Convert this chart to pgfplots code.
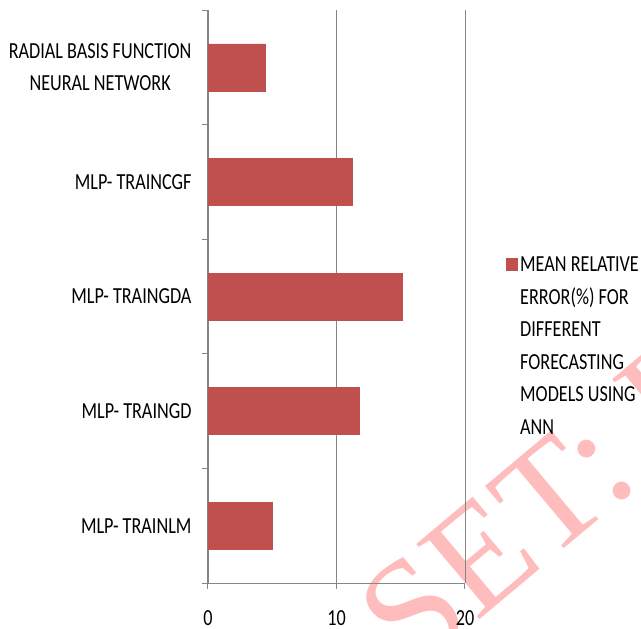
\documentclass[border=0pt]{standalone}
\usepackage{fontspec}
\setmainfont{Carlito}[FakeStretch=0.79]
\newfontfamily\wmfont{Liberation Serif}
\usepackage{pgfplots}
\pgfplotsset{compat=1.18}

\definecolor{barred}{RGB}{192,80,77}
\definecolor{axisgray}{RGB}{134,134,134}
\definecolor{wmpink}{RGB}{255,188,188}

\begin{document}
\begin{tikzpicture}
\useasboundingbox (0,0) rectangle (641pt,-629pt);
\clip (0,0) rectangle (641pt,-629pt);
% watermark behind everything
\node[text=wmpink, font=\wmfont\fontsize{150}{150}\selectfont,
      anchor=base west, inner sep=0pt, rotate=40] at (412pt,-676pt) {SET: I};
\begin{axis}[
    at={(208pt,-583pt)}, anchor=south west,
    scale only axis,
    width=257pt, height=573pt,
    xbar, bar width=47pt,
    xmin=0, xmax=20,
    ymin=0.5, ymax=5.5,
    xtick={0,10,20},
    ytick={0.5,1.5,2.5,3.5,4.5,5.5},
    y tick label as interval,
    yticklabels={MLP- TRAINLM, MLP- TRAINGD, MLP- TRAINGDA, MLP- TRAINCGF,
                 {RADIAL BASIS FUNCTION\\NEURAL NETWORK}},
    axis x line*=bottom, axis y line*=left,
    axis line style={draw=axisgray, line width=1pt, -},
    tick style={draw=axisgray, line width=1pt},
    tick align=outside, major tick length=6pt,
    xmajorgrids, grid style={draw=axisgray, line width=0.8pt},
    font=\fontsize{23}{31.5}\selectfont,
    /pgf/number format/assume math mode=true,
    yticklabel style={align=center, xshift=-7pt},
    xticklabel style={yshift=-18pt},
]
\addplot[fill=barred, draw=barred] coordinates {
    (4.98,1) (11.75,2) (15.1,3) (11.2,4) (4.44,5)};
\end{axis}
% legend
\fill[barred] (506pt,-258pt) rectangle (518pt,-271pt);
\node[anchor=north west, inner sep=0pt, align=left,
      font=\fontsize{23}{32.5}\selectfont] at (520pt,-257pt)
  {MEAN RELATIVE\\ERROR(\%) FOR\\DIFFERENT\\FORECASTING\\MODELS USING\\ANN};
\end{tikzpicture}
\end{document}
